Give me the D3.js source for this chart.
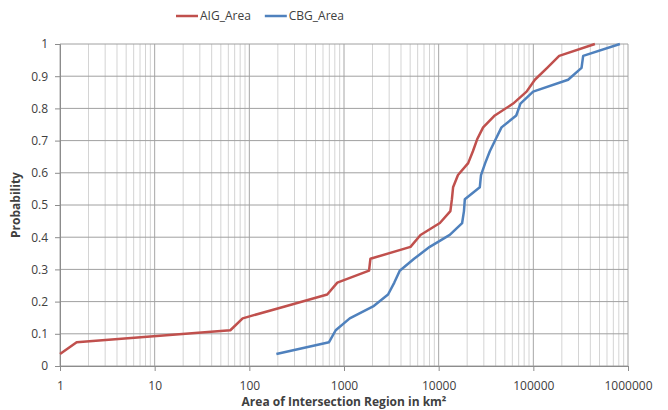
<!DOCTYPE html>
<html>
<head>
<meta charset="utf-8">
<script src="https://cdn.jsdelivr.net/npm/d3@7"></script>
<style>
  body { margin: 0; background: #fff; }
  text { font-family: "Open Sans", "DejaVu Sans", sans-serif; fill: #404040; }
</style>
</head>
<body>
<script>
/* Data. */
const probs = [0.037, 0.074, 0.111, 0.148, 0.185, 0.222, 0.259, 0.296, 0.333, 0.370, 0.407, 0.444, 0.481,
  0.518, 0.555, 0.593, 0.630, 0.667, 0.704, 0.741, 0.778, 0.815, 0.852, 0.889, 0.926, 0.963, 1.0]
const aigArea = [1, 1.5, 63, 85, 237, 665, 850, 1840, 1900, 5040, 6430, 10300, 13300,
  13800, 14200, 16000, 20500, 23000, 25500, 29500, 39200, 61200, 84800, 103800, 140000, 187500, 447000]
const cbgArea = [193, 695, 817, 1150, 2030, 2920, 3400, 3880, 5500, 8050, 13100, 17700, 18500,
  18900, 27200, 28000, 31000, 34700, 40000, 46100, 66000, 73100, 99500, 233000, 323000, 336000, 821000]
const xTicks = [1, 10, 100, 1000, 10000, 100000, 1000000]
const yTicks = [0, 0.1, 0.2, 0.3, 0.4, 0.5, 0.6, 0.7, 0.8, 0.9, 1]
const seriesNames = ["AIG_Area", "CBG_Area"]
const colors = ["#c0504d", "#4f81bd"]

/* Define svg-size. */
const width = 668
const height = 410
const margin = { top: 44, right: 40, bottom: 44, left: 60 }

const svg = d3.select("body")
  .append("svg")
  .attr("width", width)
  .attr("height", height)

/* Scales. */
const x = d3.scaleLog()
  .domain([1, 1000000])
  .range([margin.left, width - margin.right])

const y = d3.scaleLinear()
  .domain([0, 1])
  .range([height - margin.bottom, margin.top])

/* Minor vertical gridlines. */
const minor = []
for (let d = 1; d < 1000000; d *= 10) {
  for (let k = 2; k <= 9; k++) minor.push(d * k)
}

svg.append("g")
  .selectAll("line")
  .data(minor)
  .enter()
  .append("line")
  .attr("x1", d => x(d))
  .attr("x2", d => x(d))
  .attr("y1", y(0))
  .attr("y2", y(1))
  .attr("stroke", "#d4d4d4")
  .attr("stroke-width", 1)

/* Major vertical gridlines. */
svg.append("g")
  .selectAll("line")
  .data(xTicks)
  .enter()
  .append("line")
  .attr("x1", d => x(d))
  .attr("x2", d => x(d))
  .attr("y1", y(0))
  .attr("y2", y(1))
  .attr("stroke", "#a6a6a6")
  .attr("stroke-width", 1)

/* Horizontal gridlines. */
svg.append("g")
  .selectAll("line")
  .data(yTicks)
  .enter()
  .append("line")
  .attr("x1", x(1))
  .attr("x2", x(1000000))
  .attr("y1", d => y(d))
  .attr("y2", d => y(d))
  .attr("stroke", "#a0a0a0")
  .attr("stroke-width", 1)

/* Axes. */
svg.append("g")
  .attr("transform", `translate(0,${y(0)})`)
  .call(d3.axisBottom(x).tickValues(xTicks).tickFormat(d3.format("d")).tickSize(5).tickPadding(10))

svg.append("g")
  .attr("transform", `translate(${x(1)},0)`)
  .call(d3.axisLeft(y).tickValues(yTicks).tickFormat(d => d === 0 ? "0" : d === 1 ? "1" : d3.format(".1f")(d)).tickSize(5).tickPadding(7))

svg.selectAll(".domain").attr("stroke", "#8c8c8c")
svg.selectAll(".tick line").attr("stroke", "#8c8c8c")
svg.selectAll(".tick text")
  .style("font-size", "12px")
  .style("font-family", "'Open Sans', sans-serif")
  .attr("fill", "#404040")

/* Lines. */
const line = d3.line()
  .x(d => x(d[0]))
  .y(d => y(d[1]))

const series = [aigArea, cbgArea]
series.forEach((vals, i) => {
  svg.append("path")
    .datum(vals.map((v, j) => [v, probs[j]]))
    .attr("fill", "none")
    .attr("stroke", colors[i])
    .attr("stroke-width", 2.5)
    .attr("stroke-linejoin", "round")
    .attr("d", line)
})

/* Axis titles. */
svg.append("text")
  .attr("x", (x(1) + x(1000000)) / 2)
  .attr("y", 406)
  .attr("text-anchor", "middle")
  .style("font-size", "12px")
  .style("font-weight", "bold")
  .attr("fill", "#000")
  .text("Area of Intersection Region in km²")

svg.append("text")
  .attr("transform", `translate(20,${(y(0) + y(1)) / 2}) rotate(-90)`)
  .attr("text-anchor", "middle")
  .style("font-size", "12px")
  .style("font-weight", "bold")
  .attr("fill", "#000")
  .text("Probability")

/* Legend, laid out by measured text widths and centred like the original. */
const legend = svg.append("g")
let cursor = 0
seriesNames.forEach((name, i) => {
  const item = legend.append("g").attr("transform", `translate(${cursor},0)`)
  item.append("line")
    .attr("x1", 0)
    .attr("x2", 22)
    .attr("y1", 16)
    .attr("y2", 16)
    .attr("stroke", colors[i])
    .attr("stroke-width", 2.5)
  const t = item.append("text")
    .attr("x", 24)
    .attr("y", 20)
    .style("font-size", "12px")
    .attr("fill", "#404040")
    .text(name)
  cursor += 24 + t.node().getComputedTextLength() + 14
})
const legendWidth = cursor - 14
legend.attr("transform", `translate(${260 - legendWidth / 2},0)`)
</script>
</body>
</html>
